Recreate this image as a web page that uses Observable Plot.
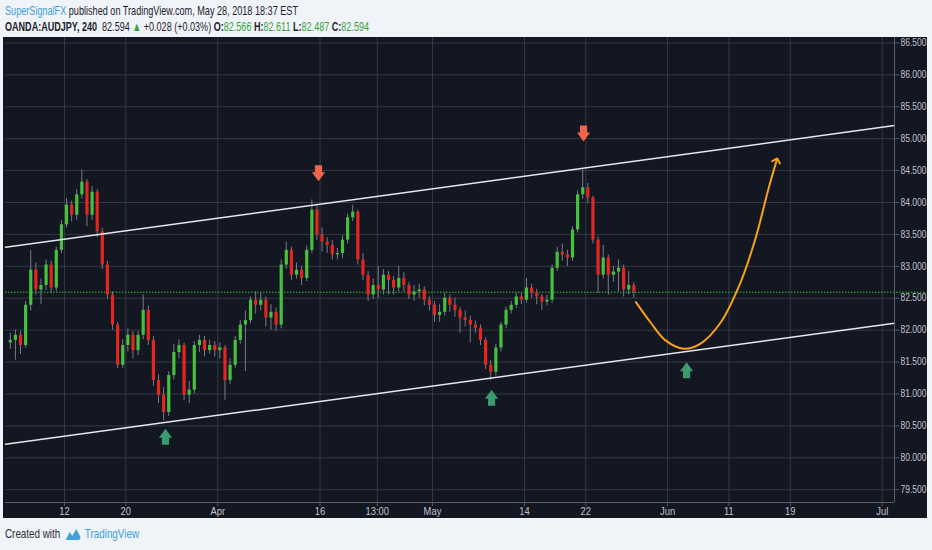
<!DOCTYPE html>
<html><head><meta charset="utf-8">
<script src="https://cdn.jsdelivr.net/npm/d3@7"></script>
<script src="https://cdn.jsdelivr.net/npm/@observablehq/plot@0.6"></script>
<style>
html,body{margin:0;padding:0;background:#f0f3f8;width:932px;height:550px;overflow:hidden;font-family:"Liberation Sans Narrow","Arial Narrow","Liberation Sans",Arial,sans-serif;}
.line{position:absolute;left:5px;white-space:nowrap;transform-origin:0 50%;font-size:13px;color:#1e222d;}
#h1{top:3px}
#h2{top:19px}
.blue{color:#3fa0dc}
.grn{color:#36a43a}
#dark{position:absolute;left:3px;top:37px;width:924px;height:481px;background:#131722}
#chart{position:absolute;left:3px;top:37px;width:929px;height:481px;overflow:visible}
#foot{position:absolute;left:5px;top:527px;font-size:12px;color:#2a2e39;white-space:nowrap;display:flex;align-items:center;transform-origin:0 50%}
</style></head>
<body>
<div id="h1" class="line" data-w="293"><span class="blue">SuperSignalFX</span> published on TradingView.com, May 28, 2018 18:37 EST</div>
<div id="h2" class="line" data-w="364"><b>OANDA:AUDJPY, 240</b>&nbsp; 82.594 <span class="grn">▲</span> +0.028 (+0.03%) <b>O:</b><span class="grn">82.566</span> <b>H:</b><span class="grn">82.611</span> <b>L:</b><span class="grn">82.487</span> <b>C:</b><span class="grn">82.594</span></div>
<div id="dark"></div>
<div id="chart"></div>
<div id="foot" data-w="134"><span>Created with</span>
<svg width="20" height="14" viewBox="0 0 20 14" style="margin:0 4px 0 6px"><path d="M1 13 L6 5 L9 9 L14 2 L19 10 Q19 13 16 13 Z" fill="#3fa0dc"/></svg>
<span class="blue">TradingView</span></div>
<script>
// ---- data ----
const closes = [81.84, 81.92, 81.76, 82.39, 82.94, 82.63, 82.70, 83.02, 82.66, 83.25,
 83.65, 83.96, 83.80, 84.12, 84.32, 83.80, 84.16, 83.54, 83.02, 82.55,
 82.08, 81.45, 81.76, 81.92, 81.68, 81.92, 82.31, 81.84, 81.21, 80.98,
 80.71, 81.29, 81.65, 81.76, 80.98, 81.06, 81.76, 81.84, 81.68, 81.76,
 81.68, 81.72, 81.21, 81.45, 81.84, 82.08, 82.15, 82.47, 82.39, 82.47,
 82.19, 82.28, 82.08, 83.02, 83.25, 82.86, 82.94, 82.81, 83.25, 83.88,
 83.49, 83.38, 83.33, 83.18, 83.20, 83.41, 83.76, 83.85, 83.10, 82.86,
 82.55, 82.70, 82.63, 82.86, 82.78, 82.66, 82.81, 82.70, 82.55, 82.60,
 82.63, 82.47, 82.39, 82.23, 82.28, 82.50, 82.39, 82.31, 82.19, 82.15,
 82.08, 82.03, 81.84, 81.45, 81.34, 81.72, 82.08, 82.31, 82.39, 82.52,
 82.47, 82.66, 82.58, 82.52, 82.44, 82.47, 82.97, 83.22, 83.18, 83.13,
 83.57, 84.12, 84.23, 84.07, 83.41, 82.86, 83.13, 82.86, 82.91, 82.97,
 82.63, 82.70, 82.594];
const highs = [81.95, 82.00, 81.98, 82.45, 83.25, 83.05, 82.80, 83.10, 83.08, 83.30,
 83.72, 84.06, 84.02, 84.20, 84.51, 84.36, 84.25, 84.20, 83.60, 83.08,
 82.60, 82.12, 81.85, 82.02, 81.98, 81.98, 82.55, 82.38, 81.90, 81.30,
 81.10, 81.35, 81.78, 81.85, 81.80, 81.20, 81.82, 81.92, 81.90, 81.84,
 81.82, 81.80, 81.76, 81.55, 81.90, 82.15, 82.30, 82.52, 82.60, 82.58,
 82.52, 82.40, 82.35, 83.10, 83.38, 83.30, 83.05, 83.00, 83.32, 84.04,
 83.95, 83.60, 83.45, 83.40, 83.28, 83.48, 83.82, 83.96, 83.88, 83.20,
 82.92, 82.80, 83.00, 82.95, 82.92, 82.84, 83.00, 82.90, 82.75, 82.70,
 82.72, 82.68, 82.52, 82.45, 82.40, 82.58, 82.55, 82.50, 82.36, 82.30,
 82.22, 82.14, 82.08, 81.88, 81.52, 81.78, 82.12, 82.36, 82.45, 82.58,
 82.58, 82.81, 82.72, 82.64, 82.56, 82.55, 83.02, 83.30, 83.35, 83.25,
 83.62, 84.18, 84.51, 84.30, 84.10, 83.46, 83.33, 83.18, 83.00, 83.10,
 83.02, 82.92, 82.74];
const lows = [81.70, 81.53, 81.62, 81.72, 82.30, 82.55, 82.40, 82.62, 82.58, 82.60,
 83.20, 83.60, 83.70, 83.72, 84.05, 83.62, 83.72, 83.45, 82.95, 82.48,
 82.00, 81.40, 81.40, 81.66, 81.55, 81.60, 81.85, 81.76, 81.12, 80.85,
 80.58, 80.65, 81.22, 81.55, 80.90, 80.85, 81.00, 81.65, 81.58, 81.62,
 81.58, 81.55, 80.90, 81.15, 81.40, 81.78, 81.35, 82.10, 82.25, 82.30,
 82.05, 82.00, 81.98, 82.02, 82.95, 82.78, 82.80, 82.70, 82.76, 83.20,
 83.40, 83.22, 83.20, 83.10, 83.10, 83.12, 83.35, 83.70, 83.02, 82.78,
 82.45, 82.48, 82.50, 82.55, 82.55, 82.55, 82.60, 82.60, 82.48, 82.45,
 82.50, 82.38, 82.30, 82.12, 82.12, 82.22, 82.28, 82.20, 81.95, 82.05,
 81.80, 81.95, 81.76, 81.38, 81.21, 81.28, 81.66, 82.02, 82.25, 82.34,
 82.40, 82.42, 82.50, 82.40, 82.31, 82.38, 82.42, 82.92, 83.08, 83.00,
 83.08, 83.52, 84.05, 83.98, 83.35, 82.58, 82.80, 82.55, 82.75, 82.60,
 82.52, 82.55, 82.50];
const firstOpen = 81.80;
const barStart = -5.3, barStep = 0.5;   // bar times in trading days from Mar 12

const xTickPos = [0, 6, 15, 25, 30.6, 36, 45, 51, 59, 65, 71, 80];
const xTickLabels = ["12", "20", "Apr", "16", "13:00", "May", "14", "22", "Jun", "11", "19", "Jul"];
const yTicks = [79.5, 80, 80.5, 81, 81.5, 82, 82.5, 83, 83.5, 84, 84.5, 85, 85.5, 86, 86.5];

const lastPrice = 82.594;
const channelX = [-5.77, 81.2];
const upperY = [83.30, 85.205];
const lowerY = [80.214, 82.107];

const pathX = [55.9, 57.34, 58.8, 60.57, 62.23, 64.19, 66.14, 67.61, 68.88, 69.67];
const pathY = [82.44, 82.12, 81.84, 81.71, 81.79, 82.12, 82.75, 83.44, 84.22, 84.66];

const downX = [24.85, 50.78], downY = [84.46, 85.08];
const upX = [9.88, 41.78, 60.86], upY = [80.33, 80.94, 81.37];

// ---- build ----
const bars = closes.map((c, i) => ({
  t: barStart + i * barStep,
  open: i === 0 ? firstOpen : closes[i - 1],
  close: c, high: highs[i], low: lows[i]
}));
const labelOf = new Map(xTickPos.map((p, i) => [p, xTickLabels[i]]));
const chan = (ys) => channelX.map((x, i) => ({x, y: ys[i]}));
const path = pathX.map((x, i) => ({x, y: pathY[i]}));
const downs = downX.map((x, i) => ({x, y: downY[i]}));
const ups = upX.map((x, i) => ({x, y: upY[i]}));

function arrowSymbol(dir) {
  return {draw(ctx, size) {
    const u = Math.sqrt(size / Math.PI) / 8 * dir;
    const a = Math.abs(u);
    ctx.moveTo(-3.6 * a, -8 * u); ctx.lineTo(3.6 * a, -8 * u); ctx.lineTo(3.6 * a, -1 * u);
    ctx.lineTo(6.6 * a, -1 * u); ctx.lineTo(0, 8 * u); ctx.lineTo(-6.6 * a, -1 * u);
    ctx.lineTo(-3.6 * a, -1 * u); ctx.closePath();
  }};
}

const xDom = [-5.77, 81.2], yDom = [79.30, 86.585];
const grid = "#353945", up = "#46c13d", dn = "#e52520";
const font = '"Liberation Sans Narrow","Arial Narrow","Liberation Sans",Arial,sans-serif';
const chart = Plot.plot({
  width: 929, height: 481,
  marginLeft: 2, marginRight: 38, marginTop: 0, marginBottom: 16,
  x: {domain: xDom, axis: null},
  y: {domain: yDom, axis: null},
  style: {background: "transparent", color: "#b8bbc4", fontSize: "11px", fontFamily: font, overflow: "visible"},
  marks: [
    Plot.ruleY(yTicks, {stroke: grid, strokeWidth: 1}),
    Plot.ruleX(xTickPos, {stroke: grid, strokeWidth: 1}),
    Plot.ruleY([{y: lastPrice}], {y: "y", x1: xDom[0], x2: 84.4, stroke: "#2fbf2f", strokeWidth: 1, strokeDasharray: "1.5,1.5"}),
    Plot.ruleX(bars, {x: "t", y1: "low", y2: "high", stroke: "#777b8a", strokeWidth: 1}),
    Plot.ruleX(bars, {x: "t", y1: "open", y2: "close", stroke: d => d.close >= d.open ? up : dn, strokeWidth: 3.2}),
    Plot.line(chan(upperY), {x: "x", y: "y", stroke: "#e6e8ee", strokeWidth: 1.5}),
    Plot.line(chan(lowerY), {x: "x", y: "y", stroke: "#e6e8ee", strokeWidth: 1.5}),
    Plot.line(path, {x: "x", y: "y", stroke: "#f7a11a", strokeWidth: 2, curve: "catmull-rom", markerEnd: "arrow"}),
    Plot.dot(downs, {x: "x", y: "y", r: 8, symbol: arrowSymbol(1), fill: "#f0654a", stroke: "none"}),
    Plot.dot(ups, {x: "x", y: "y", r: 8, symbol: arrowSymbol(-1), fill: "#3b9a6f", stroke: "none"}),
    Plot.ruleX([xDom[1]], {stroke: "#5a5e6a"}),
    Plot.ruleY([yDom[0]], {stroke: "#5a5e6a"}),
    Plot.axisY(yTicks, {anchor: "right", tickFormat: d => d.toFixed(3), tickSize: 4, tickPadding: 2, fontSize: 10, stroke: "#5a5e6a", fill: "#c0c3cc"}),
    Plot.axisX(xTickPos, {anchor: "bottom", tickFormat: d => labelOf.get(d), tickSize: 4, tickPadding: 1, stroke: "#5a5e6a", fill: "#c0c3cc"})
  ]
});
document.getElementById("chart").appendChild(chart);

// condense tick labels to the narrow look of the original
chart.querySelectorAll("text").forEach(t => {
  const w = t.getComputedTextLength();
  const isY = /^\d+\.\d{3}$/.test(t.textContent);
  const target = isY ? 26 : w * 0.85;
  if (w > target) {
    t.setAttribute("textLength", target.toFixed(1));
    t.setAttribute("lengthAdjust", "spacingAndGlyphs");
  }
});

// fit header/footer lines to their widths
document.querySelectorAll("[data-w]").forEach(el => {
  const w = el.getBoundingClientRect().width;
  const target = +el.dataset.w;
  if (w > 0) el.style.transform = `scaleX(${target / w})`;
});
</script>
</body></html>
